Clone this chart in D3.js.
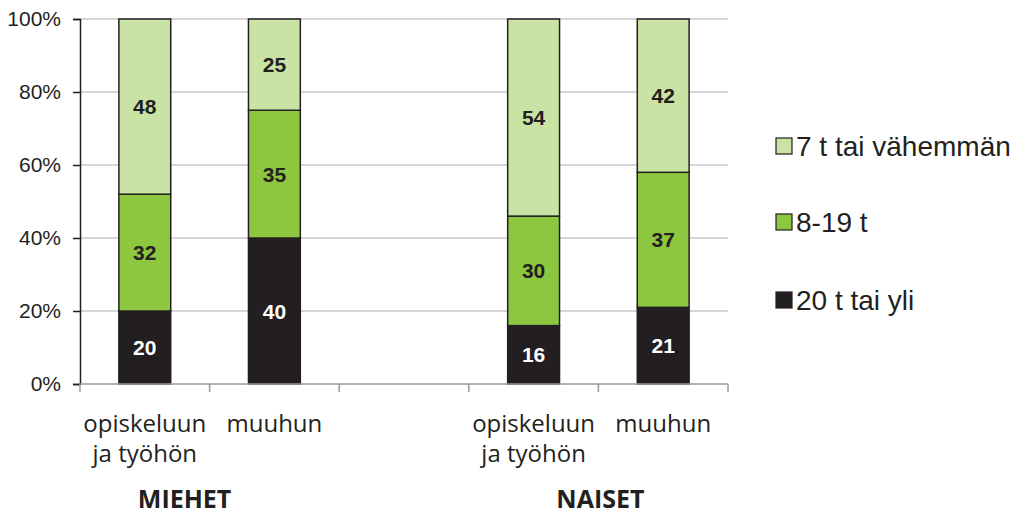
<!DOCTYPE html>
<html>
<head>
<meta charset="utf-8">
<script src="https://cdn.jsdelivr.net/npm/d3@7"></script>
<style>
  body { margin: 0; background: #fff; }
  svg text { fill: #231f20; }
</style>
</head>
<body>
<div id="chart"></div>
<script>
// slots along the x axis, the middle one is left empty
var slots = ["m1", "m2", "gap", "n1", "n2"];
var catLabels = [["opiskeluun", "ja työhön"], ["muuhun"], [], ["opiskeluun", "ja työhön"], ["muuhun"]];
var groups = ["MIEHET", "NAISET"];
var seriesNames = ["20 t tai yli", "8-19 t", "7 t tai vähemmän"];
var seriesColors = ["#231f20", "#8dc63f", "#c9e3a5"];
// values bottom to top, per slot
var over20 = [20, 40, null, 16, 21];
var mid8to19 = [32, 35, null, 30, 37];
var under7 = [48, 25, null, 54, 42];
var yTicks = [0, 20, 40, 60, 80, 100];

var width = 1030, height = 516;
var margin = {top: 19, left: 80, right: 302, bottom: 132};
var plotW = width - margin.left - margin.right;
var plotH = height - margin.top - margin.bottom;

var svg = d3.select("#chart").append("svg")
  .attr("width", width)
  .attr("height", height)
  .style("font-family", "Arial, 'Liberation Sans', sans-serif");

var g = svg.append("g")
  .attr("transform", "translate(" + margin.left + "," + margin.top + ")");

var x = d3.scaleBand().domain(slots).range([0, plotW]);
var y = d3.scaleLinear().domain([0, 100]).range([plotH, 0]);

// gridlines
g.selectAll(".grid").data(yTicks.slice(1)).enter().append("line")
  .attr("x1", 0).attr("x2", plotW)
  .attr("y1", function(d) { return y(d); })
  .attr("y2", function(d) { return y(d); })
  .attr("stroke", "#c8c8c8").attr("stroke-width", 1.5);

// stacked data
var rows = slots.map(function(s, i) {
  return {slot: s, a: over20[i], b: mid8to19[i], c: under7[i]};
}).filter(function(r) { return r.a != null; });
var stack = d3.stack().keys(["a", "b", "c"])(rows);

var barW = x.bandwidth() * 0.4;
stack.forEach(function(layer, li) {
  var lg = g.append("g");
  lg.selectAll("rect").data(layer).enter().append("rect")
    .attr("x", function(d) { return x(d.data.slot) + (x.bandwidth() - barW) / 2; })
    .attr("y", function(d) { return y(d[1]); })
    .attr("width", barW)
    .attr("height", function(d) { return y(d[0]) - y(d[1]); })
    .attr("fill", seriesColors[li])
    .attr("stroke", "#231f20")
    .attr("stroke-width", 1.5);
  lg.selectAll("text").data(layer).enter().append("text")
    .attr("x", function(d) { return x(d.data.slot) + x.bandwidth() / 2; })
    .attr("y", function(d) { return y((d[0] + d[1]) / 2); })
    .attr("dy", "0.36em")
    .attr("text-anchor", "middle")
    .style("font-size", "21px")
    .style("font-weight", "bold")
    .style("fill", li === 0 ? "#ffffff" : "#231f20")
    .text(function(d) { return d[1] - d[0]; });
});

// y axis
var yAxis = g.append("g")
  .call(d3.axisLeft(y).tickValues(yTicks).tickSize(7).tickPadding(12)
    .tickFormat(function(d) { return d + "%"; }));
yAxis.select(".domain").attr("stroke", "#231f20").attr("stroke-width", 1.5);
yAxis.selectAll(".tick line").attr("stroke", "#231f20").attr("stroke-width", 1.5);
yAxis.selectAll("text").style("font-size", "21px").style("fill", "#231f20")
  .style("font-family", "Arial, 'Liberation Sans', sans-serif");

// x axis with ticks at slot boundaries
var bounds = slots.map(function(s) { return x(s); }).concat([plotW]);
g.append("line").attr("x1", 0).attr("x2", plotW).attr("y1", plotH).attr("y2", plotH)
  .attr("stroke", "#9a9a9a").attr("stroke-width", 1.5);
g.selectAll(".xtick").data(bounds).enter().append("line")
  .attr("x1", function(d) { return d; }).attr("x2", function(d) { return d; })
  .attr("y1", plotH).attr("y2", plotH + 8)
  .attr("stroke", "#9a9a9a").attr("stroke-width", 1.5);

// category labels
slots.forEach(function(s, i) {
  catLabels[i].forEach(function(line, j) {
    g.append("text")
      .attr("x", x(s) + x.bandwidth() / 2)
      .attr("y", plotH + 48 + j * 30)
      .attr("text-anchor", "middle")
      .style("font-family", "'Open Sans', sans-serif")
      .style("font-size", "24px")
      .text(line);
  });
});

// group labels (the left one sits a bit left of its group centre)
var groupShift = [-25, 2];
[[0, 1], [3, 4]].forEach(function(pair, gi) {
  var cx = (x(slots[pair[0]]) + x(slots[pair[1]]) + x.bandwidth()) / 2 + groupShift[gi];
  g.append("text")
    .attr("x", cx)
    .attr("y", plotH + 124)
    .attr("text-anchor", "middle")
    .style("font-family", "'Open Sans', sans-serif")
    .style("font-size", "25px")
    .style("font-weight", "bold")
    .text(groups[gi]);
});

// legend, top entry is the top series
var legendY = [146, 222, 300];
var legend = svg.append("g");
[2, 1, 0].forEach(function(si, k) {
  legend.append("rect")
    .attr("x", 776).attr("y", legendY[k] - 8)
    .attr("width", 16).attr("height", 16)
    .attr("fill", seriesColors[si])
    .attr("stroke", "#231f20").attr("stroke-width", 1.2);
  legend.append("text")
    .attr("x", 796).attr("y", legendY[k])
    .attr("dy", "0.36em")
    .style("font-size", "28px")
    .text(seriesNames[si]);
});
</script>
</body>
</html>
